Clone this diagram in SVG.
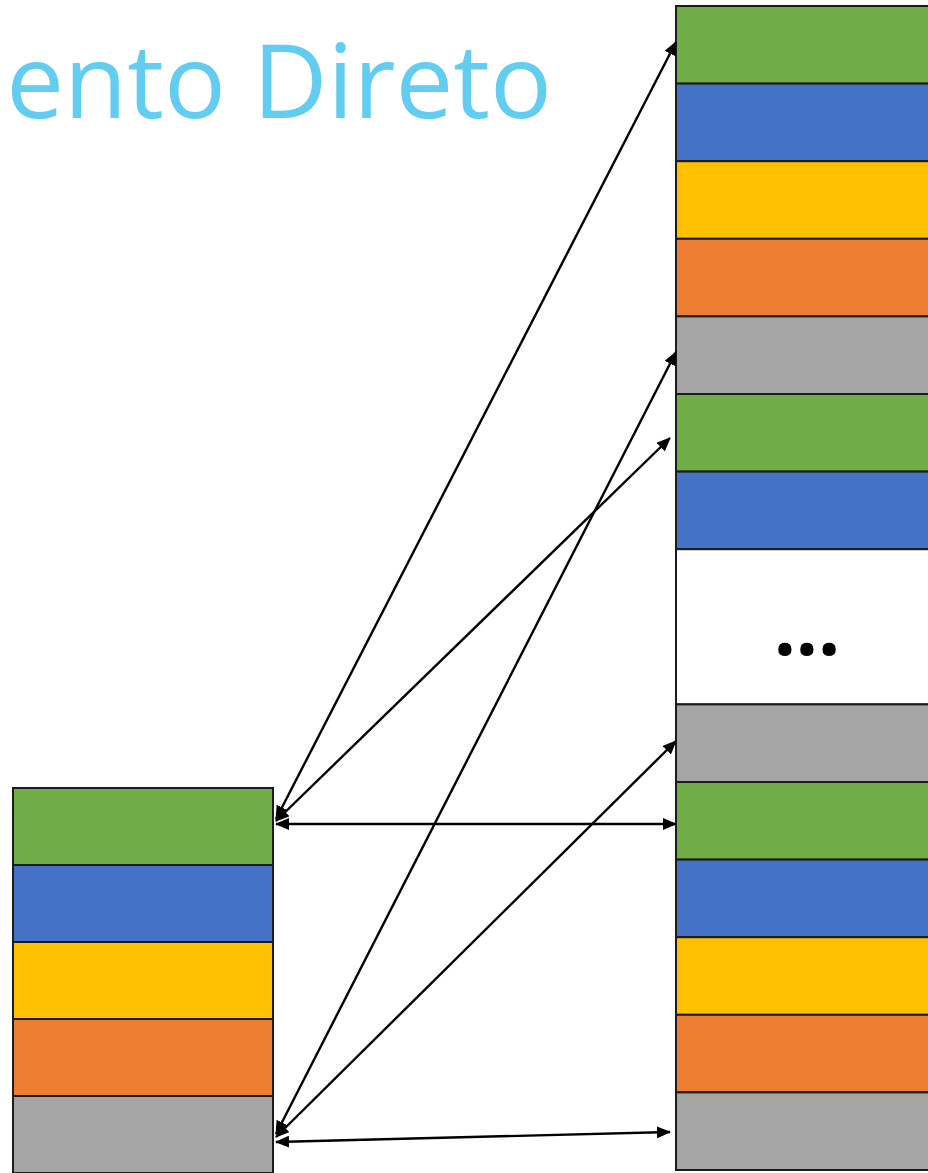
<svg xmlns="http://www.w3.org/2000/svg" width="928" height="1173" viewBox="0 0 928 1173">
  <style>
    .cell { stroke: #1c1c1c; stroke-width: 2; }
    .g { fill: #70AD47; }
    .b { fill: #4472C4; }
    .y { fill: #FFC000; }
    .o { fill: #ED7D31; }
    .s { fill: #A5A5A5; }
    .w { fill: #FFFFFF; }
    .link { stroke: #000; stroke-width: 2.4; fill: none; marker-start: url(#head); marker-end: url(#head); }
    .title { font-family: "Open Sans", "Liberation Sans", sans-serif; font-size: 103px; fill: #62CDF0; }
  </style>
  <defs>
    <marker id="head" viewBox="0 0 14 12" refX="13" refY="6" markerWidth="14" markerHeight="12" markerUnits="userSpaceOnUse" orient="auto-start-reverse">
      <path d="M0,0 L14,6 L0,12 Z" fill="#000"/>
    </marker>
  </defs>
  <rect width="928" height="1173" fill="#FFFFFF"/>

  <text class="title" x="552" y="118" text-anchor="end">mento Direto</text>

  <!-- cache lines (left) -->
  <g id="cache">
    <rect class="cell g" x="13" y="788" width="260" height="77"/>
    <rect class="cell b" x="13" y="865" width="260" height="77"/>
    <rect class="cell y" x="13" y="942" width="260" height="77"/>
    <rect class="cell o" x="13" y="1019" width="260" height="77"/>
    <rect class="cell s" x="13" y="1096" width="260" height="77"/>
  </g>

  <!-- main memory blocks (right) -->
  <g id="memory">
    <rect class="cell g" x="676" y="6" width="270" height="77.6"/>
    <rect class="cell b" x="676" y="83.6" width="270" height="77.6"/>
    <rect class="cell y" x="676" y="161.2" width="270" height="77.6"/>
    <rect class="cell o" x="676" y="238.8" width="270" height="77.6"/>
    <rect class="cell s" x="676" y="316.4" width="270" height="77.6"/>
    <rect class="cell g" x="676" y="394" width="270" height="77.6"/>
    <rect class="cell b" x="676" y="471.6" width="270" height="77.6"/>
    <rect class="cell w" x="676" y="549.2" width="270" height="155.2"/>
    <rect class="cell s" x="676" y="704.4" width="270" height="77.6"/>
    <rect class="cell g" x="676" y="782" width="270" height="77.6"/>
    <rect class="cell b" x="676" y="859.6" width="270" height="77.6"/>
    <rect class="cell y" x="676" y="937.2" width="270" height="77.6"/>
    <rect class="cell o" x="676" y="1014.8" width="270" height="77.6"/>
    <rect class="cell s" x="676" y="1092.4" width="270" height="77.6"/>
    <text x="807" y="655" text-anchor="middle" font-family="Open Sans, Liberation Sans, sans-serif" font-weight="bold" font-size="78" letter-spacing="0" fill="#000">...</text>
  </g>

  <!-- mapping connectors -->
  <g id="connectors">
    <line class="link" x1="276" y1="819" x2="676" y2="42"/>
    <line class="link" x1="276" y1="821" x2="670" y2="438"/>
    <line class="link" x1="276" y1="824" x2="676" y2="824"/>
    <line class="link" x1="276" y1="1134" x2="676" y2="352"/>
    <line class="link" x1="276" y1="1137" x2="676" y2="741"/>
    <line class="link" x1="276" y1="1142" x2="670" y2="1132"/>
  </g>
</svg>
